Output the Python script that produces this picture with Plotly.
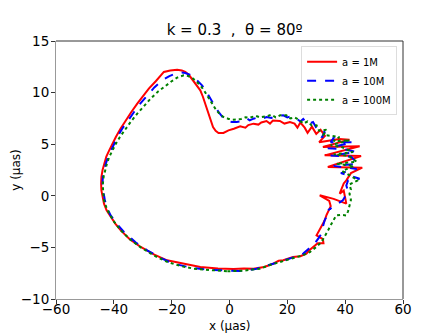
import plotly.graph_objects as go

# orbit traces (x, y in micro-arcseconds)
red_x = [1.4, -4, -10.1, -16, -21.6, -26, -30.7, -34.5, -37.6, -39.5, -41.1, -42.5, -43.4, -44.0, -44.3, -44.4,
         -44.3, -43.9, -43.4, -42.6, -41.6, -40.5, -39.3, -37.7, -35.9, -34, -31.9, -30, -27.9, -25.5, -22.7,
         -20.5, -18.1, -16.5, -15.3, -14, -13.0, -11.5, -10.1, -9.2, -8.4, -7.5, -6.7, -5.7, -4.8, -3.8, -2.1,
         -0.35, 1.5, 3.7, 5.5, 6.5, 8.3, 10, 11, 12.8, 14, 15, 17.4, 19, 20.9, 22.5, 23.5, 24.5, 26, 27, 28.5,
         30, 31.5, 33, 31, 38, 41.5, 32.3, 45.0, 32.9, 45.5, 34, 45.9, 42, 40.4, 39.5, 38.1, 39.5, 40.4, 36,
         31.2, 34.5, 35, 34.2, 33.5, 32.9, 32, 31.2, 30.1, 32.3, 32.5, 30.5, 28.9, 27.5, 26.6, 24.5, 22.0, 20,
         18.6, 17, 15.1, 12, 8.3, 5, 1.4]
red_y = [-7.1, -7.05, -6.9, -6.6, -6.25, -5.7, -4.96, -4.2, -3.35, -2.7, -2.05, -1.4, -0.76, 0, 0.53, 1.2,
         1.82, 2.5, 3.11, 3.8, 4.4, 5.05, 5.7, 6.5, 7.31, 8.1, 8.93, 9.6, 10.38, 11.1, 12.0,
         12.15, 12.22, 12.15, 12.0, 11.7, 11.35, 10.8, 10.22, 9.6, 8.93, 8.1, 7.31, 6.67, 6.3, 6.09, 6.09,
         6.34, 6.5, 6.73, 6.6, 6.85, 6.99, 6.9, 7.1, 7.25, 7.0, 7.3, 7.25, 7.0, 7.15, 7.0, 6.6, 7.1, 6.6, 6.1, 6.7,
         6.0, 6.4, 5.8, 5.2, 5.5, 5.44, 4.73, 4.8, 3.92, 3.86, 2.8, 2.73, 2.2, 1.5, 1.2, 0.2, 0.5, -0.76, -0.3,
         0.05, -0.5, -1.0, -1.4, -1.9, -2.4, -2.9, -3.35, -3.83, -4.2, -4.6, -4.6, -4.96, -5.3, -5.6, -5.85, -5.93, -6.1,
         -6.25, -6.3, -6.58, -6.9, -7.06, -7.05, -7.1]

blue_x = [3.7, -2, -7.8, -13.5, -19.3, -24, -28.5, -32.5, -36.5, -39, -41.1, -42.3, -43.1, -43.6, -43.9, -43.8,
          -43.4, -42.8, -42, -41, -39.9, -38.6, -37.1, -35.2, -33.0, -30.8, -28.5, -26, -23.3, -20.8, -18.1,
          -16.5, -15.3, -13.8, -12.4, -11, -9.5, -8, -6.7, -5.2, -3.8, -2.3, -0.9, 0.8, 2.5, 4.5, 6, 7, 8.3,
          10, 11, 12.8, 14.5, 16, 18.6, 20, 21.5, 23.2, 24.5, 25.5, 27, 28.9, 30, 31.2, 33, 32, 36, 35, 42.7,
          34, 40, 43.8, 35, 42, 44.4, 36, 44, 38.5, 45, 41, 40.4, 41, 39.2, 37, 35.8, 34.1, 35, 33.8, 32.9,
          32.3, 31.8, 30.8, 29.5, 27.5, 25.5, 23.2, 20.9, 18, 15.1, 12, 9.4, 6.5, 3.7]
blue_y = [-7.29, -7.25, -7.16, -6.95, -6.58, -6.0, -5.28, -4.5, -3.5, -2.7, -1.9, -1.2, -0.44, 0.4, 1.18, 1.9,
          2.47, 3.1, 3.76, 4.4, 5.05, 5.8, 6.5, 7.3, 8.12, 8.95, 9.74, 10.5, 11.19, 11.6, 11.9,
          11.95, 11.9, 11.75, 11.5, 11.15, 10.7, 10.1, 9.41, 8.75, 8.12, 7.6, 7.31, 7.15, 7.15, 7.25, 7.5, 7.3, 7.47,
          7.6, 7.45, 7.64, 7.55, 7.75, 7.8, 7.6, 7.7, 7.47, 7.2, 7.45, 6.9, 7.15, 6.6, 6.18, 6.2, 5.7, 5.6, 5.2, 5.2,
          4.6, 4.5, 4.24, 3.9, 3.8, 3.11, 2.9, 2.6, 2.2, 1.66, 1.5, 1.0, 0.4, -0.44, -0.8, -1.08, -1.4, -1.2, -1.9, -2.38,
          -3.0, -3.67, -4.1, -4.6, -5.1, -5.6, -5.85, -6.09, -6.35, -6.58, -6.85, -7.06, -7.2, -7.29]

green_x = [-0.9, -6.5, -12.4, -17, -21.6, -26, -30.7, -34.5, -37.6, -39.8, -41.6, -42.6, -43.4, -43.7, -43.8,
           -43.5, -43.1, -42.4, -41.6, -40.5, -39.3, -37.9, -36.3, -34.2, -31.9, -29.6, -27.3, -24.7, -22.1, -20,
           -18.1, -16.8, -15.8, -14.3, -13.0, -11.5, -10.1, -8.9, -7.8, -6.3, -4.9, -3.5, -2.1, -0.3, 1.4, 4, 5.5,
           7.1, 9, 10.5, 12.8, 14.5, 16, 17.5, 19.7, 21, 22.5, 24.3, 25.5, 27, 28.5, 30.1, 31, 33.5, 32.5, 38, 36,
           41.5, 35, 39, 42.7, 36, 41, 44, 37, 43, 39, 44.4, 41.5, 42, 41.5, 42, 41.5, 41, 40.4, 38.5, 36.9, 35.8,
           35, 34.1, 33, 31.8, 29.8, 27.8, 25.5, 23.2, 20.5, 17.4, 14, 10.5, 5, -0.9]
green_y = [-7.32, -7.22, -7.06, -6.8, -6.4, -5.8, -5.0, -4.2, -3.35, -2.55, -1.73, -1.1, -0.44, 0.4, 1.18,
           1.9, 2.47, 3.1, 3.76, 4.4, 5.05, 5.7, 6.34, 7.15, 7.96, 8.7, 9.41, 10.1, 10.7, 11.1,
           11.45, 11.6, 11.67, 11.6, 11.45, 11.1, 10.7, 10.25, 9.74, 9.1, 8.44, 7.95, 7.64, 7.45, 7.38, 7.45, 7.6,
           7.57, 7.75, 7.6, 7.7, 7.85, 7.6, 7.8, 7.8, 7.5, 7.6, 7.31, 7.0, 7.2, 6.8, 6.83, 6.3, 6.4, 5.9, 5.7, 5.3,
           5.38, 4.9, 4.7, 4.24, 4.0, 3.9, 3.3, 3.1, 2.9, 2.4, 1.5, 1.1, 0.6, 0.2, -0.4, -1.08, -1.5, -1.9, -1.85, -1.9, -2.38,
           -2.85, -3.35, -3.9, -4.48, -5.0, -5.45, -5.75, -5.93, -6.15, -6.4, -6.7, -7.06, -7.25, -7.32]

x_ticks = [-60, -40, -20, 0, 20, 40, 60]
y_ticks = [-10, -5, 0, 5, 10, 15]

trace1 = go.Scatter(x=red_x, y=red_y, mode='lines', name='a = 1M',
                    line=dict(color='#ff0000', width=2))
trace2 = go.Scatter(x=blue_x, y=blue_y, mode='lines', name='a = 10M',
                    line=dict(color='#0000ff', width=2, dash='dash'))
trace3 = go.Scatter(x=green_x, y=green_y, mode='lines', name='a = 100M',
                    line=dict(color='#008000', width=2, dash='dot'))

fig = go.Figure(data=[trace1, trace2, trace3])

axis_style = dict(showgrid=False, zeroline=False, showline=True, linecolor='#999999', linewidth=1,
                  ticks='outside', ticklen=4, tickcolor='#333333', automargin=False,
                  tickfont=dict(family='DejaVu Sans', size=13.5, color='black'))

# the page body adds an 8px margin, so the figure is a little smaller than the window
fig.update_layout(
    width=440, height=328,
    margin=dict(l=48, r=45, t=33, b=37),
    paper_bgcolor='white', plot_bgcolor='white',
    font=dict(family='DejaVu Sans', color='black'),
    title=dict(text='k = 0.3  ,  θ = 80º', x=0.515, xanchor='center', y=0.933, yanchor='middle',
               font=dict(size=15)),
    xaxis=dict(range=[-60, 60], tickvals=x_ticks, ticklabelstandoff=-6, **axis_style),
    yaxis=dict(range=[-10, 15], tickvals=y_ticks, ticklabelstandoff=-1, **axis_style),
    legend=dict(x=0.983, y=0.98, xanchor='right', yanchor='top', bgcolor='white',
                bordercolor='#dddddd', borderwidth=1, font=dict(size=10), itemwidth=30,
                tracegroupgap=0),
    annotations=[dict(text='x (µas)', xref='paper', yref='paper', x=0.5, y=-0.105,
                      xanchor='center', yanchor='middle', showarrow=False, font=dict(size=12)),
                 dict(text='y (µas)', xref='paper', yref='paper', x=-0.116, y=0.5, textangle=-90,
                      xanchor='center', yanchor='middle', showarrow=False, font=dict(size=12))],
    shapes=[dict(type='line', xref='paper', yref='paper', x0=0, x1=1, y0=1, y1=1,
                 line=dict(color='#333333', width=1)),
            dict(type='line', xref='paper', yref='paper', x0=1, x1=1, y0=0, y1=1,
                 line=dict(color='#333333', width=1))],
)

fig.write_html("out.html")
